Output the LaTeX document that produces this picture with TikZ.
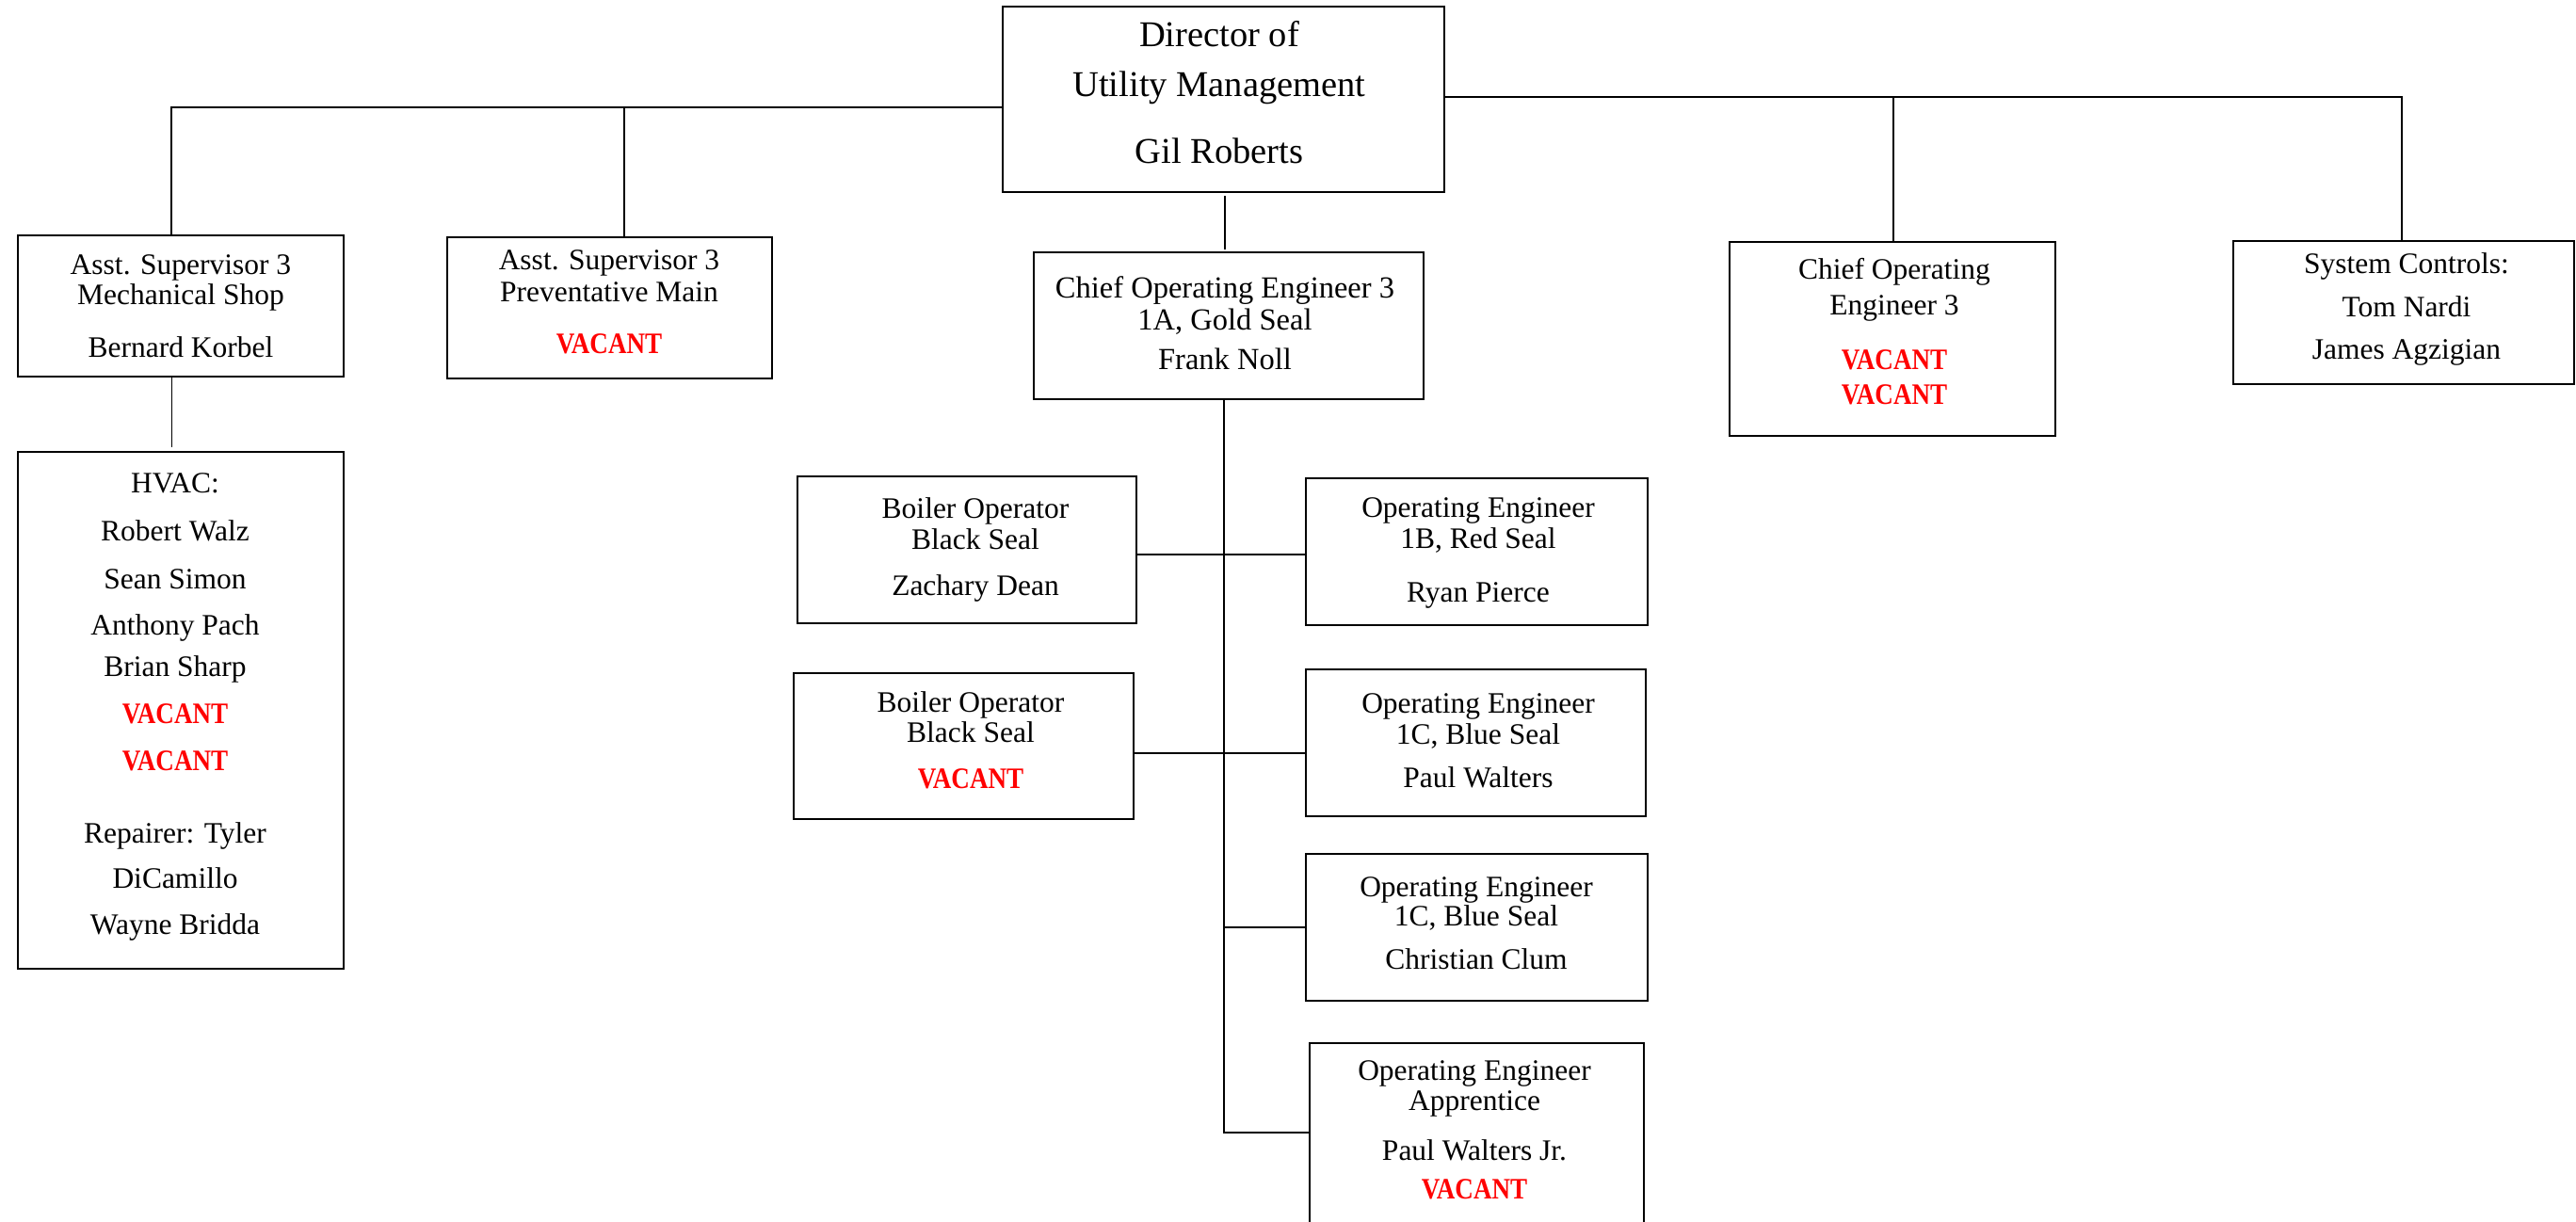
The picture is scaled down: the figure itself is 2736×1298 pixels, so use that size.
\documentclass[tikz,border=0pt]{standalone}
\usepackage{fontspec}
\usepackage{graphicx}
\setmainfont{Liberation Serif}
\definecolor{vacred}{HTML}{FF0000}
\newcounter{lblc}
\newcommand\tl[3]{\stepcounter{lblc}\node[lbl] (lbl\arabic{lblc}) at (#1,#2) {#3};}
\newcommand\tlb[3]{\stepcounter{lblc}\node[lbl,font=\fontsize{38.5}{44}\selectfont] (lbl\arabic{lblc}) at (#1,#2) {#3};}
\newcommand\tlc[3]{\stepcounter{lblc}\node[lbl,font=\fontsize{32.5}{38}\selectfont] (lbl\arabic{lblc}) at (#1,#2) {#3};}
\newcommand\vac{\scalebox{0.86}[1]{\textcolor{vacred}{\fontsize{31.5}{36}\selectfont\bfseries VACANT}}}
\tikzset{
  box/.style={draw=black, line width=2.5pt, inner sep=0pt, outer sep=0pt},
  lbl/.style={anchor=base, inner sep=0pt, font=\fontsize{31.5}{36}\selectfont},
  thinline/.style={line width=1.3pt},
  midline/.style={line width=2pt},
  thickline/.style={line width=2.5pt},
}
\begin{document}
\begin{tikzpicture}[x=1pt,y=-1pt]
\useasboundingbox (0,0) rectangle (2736,1298);
\fill[white] (0,0) rectangle (2736,1298);
\clip (0,0) rectangle (2736,1298);

% boxes
\node[box, minimum width=469pt, minimum height=197pt] (dir)  at (1299.5,105.5) {};
\node[box, minimum width=346pt, minimum height=150pt] (mech) at (192,325) {};
\node[box, minimum width=345pt, minimum height=150pt] (prev) at (647.5,327) {};
\node[box, minimum width=414pt, minimum height=156pt] (chief) at (1305,346) {};
\node[box, minimum width=346pt, minimum height=206pt] (cvac) at (2010,360) {};
\node[box, minimum width=362pt, minimum height=152pt] (sys)  at (2553,332) {};
\node[box, minimum width=346pt, minimum height=549pt] (hvac) at (192,754.5) {};
\node[box, minimum width=360pt, minimum height=156pt] (boil1) at (1027,584) {};
\node[box, minimum width=361pt, minimum height=155pt] (boil2) at (1023.5,792.5) {};
\node[box, minimum width=363pt, minimum height=156pt] (oe1b) at (1568.5,586) {};
\node[box, minimum width=361pt, minimum height=156pt] (oe1c) at (1567.5,789) {};
\node[box, minimum width=363pt, minimum height=156pt] (oecc) at (1568.5,985) {};
\node[box, minimum width=355pt, minimum height=232pt] (appr) at (1568.5,1224) {};

% junction coordinates
\coordinate (jL) at (182,114);
\coordinate (jP) at (663,114);
\coordinate (jR) at (2551,103);
\coordinate (jC) at (2011,103);
\coordinate (jD) at (1301,208);
\coordinate (jDc) at (1301,265);
\coordinate (jM) at (182,400);
\coordinate (jMh) at (182,475);
\coordinate (sTop) at (1300,424);
\coordinate (sBot) at (1300,1203);
\coordinate (s1) at (1300,589);
\coordinate (s2) at (1300,800);
\coordinate (s3) at (1300,985);

% connectors
\draw[thinline] (dir.west |- jL) -- (jL) -- (jL |- mech.north);
\draw[midline] (jP) -- (jP |- prev.north);
\draw[thinline] (dir.east |- jR) -- (jR) -- (jR |- sys.north);
\draw[midline] (jC) -- (jC |- cvac.north);
\draw[line width=1.5pt] (jD) -- (jDc);
\draw[line width=1pt] (jM) -- (jMh);
\draw[thickline] (sTop) -- (sBot) -- (sBot -| appr.west);
\draw[thickline] (boil1.east |- s1) -- (oe1b.west |- s1);
\draw[thickline] (boil2.east |- s2) -- (oe1c.west |- s2);
\draw[thickline] (s3) -- (oecc.west);

% texts
\tlb{1295}{50}{Director of}
\tlb{1295}{102}{Utility Management}
\tlb{1295}{173}{Gil Roberts}

\tl{192}{291}{Asst. Supervisor 3}
\tl{192}{323}{Mechanical Shop}
\tl{192}{379}{Bernard Korbel}

\tl{647}{286}{Asst. Supervisor 3}
\tl{647}{320}{Preventative Main}
\tl{647}{375}{\vac}

\tlc{1301}{316}{Chief Operating Engineer 3}
\tlc{1301}{350}{1A, Gold Seal}
\tlc{1301}{392}{Frank Noll}

\tl{2012}{296}{Chief Operating}
\tl{2012}{334}{Engineer 3}
\tl{2012}{392}{\vac}
\tl{2012}{429}{\vac}

\tl{2556}{290}{System Controls:}
\tl{2556}{336}{Tom Nardi}
\tl{2556}{381}{James Agzigian}

\tl{186}{523}{HVAC:}
\tl{186}{574}{Robert Walz}
\tl{186}{625}{Sean Simon}
\tl{186}{674}{Anthony Pach}
\tl{186}{718}{Brian Sharp}
\tl{186}{768}{\vac}
\tl{186}{818}{\vac}
\tl{186}{895}{Repairer: Tyler}
\tl{186}{943}{DiCamillo}
\tl{186}{992}{Wayne Bridda}

\tl{1036}{550}{Boiler Operator}
\tl{1036}{583}{Black Seal}
\tl{1036}{632}{Zachary Dean}

\tl{1031}{756}{Boiler Operator}
\tl{1031}{788}{Black Seal}
\tl{1031}{837}{\vac}

\tl{1570}{549}{Operating Engineer}
\tl{1570}{582}{1B, Red Seal}
\tl{1570}{639}{Ryan Pierce}

\tl{1570}{757}{Operating Engineer}
\tl{1570}{790}{1C, Blue Seal}
\tl{1570}{836}{Paul Walters}

\tl{1568}{952}{Operating Engineer}
\tl{1568}{983}{1C, Blue Seal}
\tl{1568}{1029}{Christian Clum}

\tl{1566}{1147}{Operating Engineer}
\tl{1566}{1179}{Apprentice}
\tl{1566}{1232}{Paul Walters Jr.}
\tl{1566}{1273}{\vac}
\end{tikzpicture}
\end{document}
